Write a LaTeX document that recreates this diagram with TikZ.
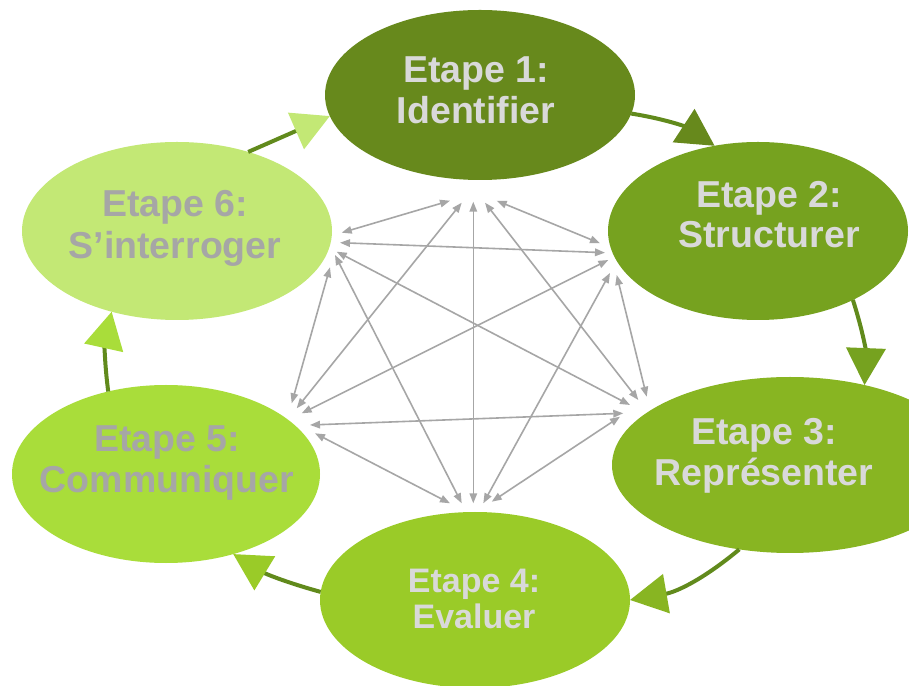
\documentclass[tikz,border=0pt]{standalone}
\usepackage{fontspec}
\setmainfont{Liberation Sans}
\usetikzlibrary{arrows.meta,shapes.geometric}
\definecolor{cA}{HTML}{67891C}
\definecolor{cB}{HTML}{76A21F}
\definecolor{cC}{HTML}{88B522}
\definecolor{cD}{HTML}{9ACB28}
\definecolor{cE}{HTML}{A9DD3A}
\definecolor{cF}{HTML}{C3E875}
\definecolor{cycline}{HTML}{618A1C}
\definecolor{linkgray}{HTML}{A6A6A6}
\definecolor{txtlight}{HTML}{D9D9D9}
\definecolor{txtdark}{HTML}{A6A6A6}
\begin{document}
\begin{tikzpicture}[x=1pt,y=1pt,
  stage/.style={ellipse, inner sep=0pt, outer sep=0pt, draw=none},
  lbl/.style={anchor=base, inner sep=0pt, font=\fontsize{37.5}{41}\selectfont\bfseries},
  lblsmall/.style={anchor=base, inner sep=0pt, font=\fontsize{34}{37}\selectfont\bfseries},
  link/.style={draw=linkgray, line width=1.6pt, {Triangle[length=10pt,width=7.5pt]}-{Triangle[length=10pt,width=7.5pt]}},
  cyc/.style={draw=cycline, line width=4pt, -{Triangle[length=37pt,width=39pt,color=#1]}}]
\fill[white] (0,0) rectangle (909,685);
\useasboundingbox (0,0) rectangle (909,685);
\clip (0,0) rectangle (909,685);
% stages
\node[stage, fill=cA, minimum width=310pt, minimum height=170pt] (E1) at (480,590) {};
\node[stage, fill=cB, minimum width=300pt, minimum height=178pt] (E2) at (758,454) {};
\node[stage, fill=cC, minimum width=356pt, minimum height=176pt] (E3) at (790,220) {};
\node[stage, fill=cD, minimum width=310pt, minimum height=176pt] (E4) at (475,85) {};
\node[stage, fill=cE, minimum width=308pt, minimum height=178pt] (E5) at (166,211) {};
\node[stage, fill=cF, minimum width=310pt, minimum height=178pt] (E6) at (177,454) {};
% network end points
\coordinate (ab) at (496.7,484.3); \coordinate (ba) at (600,441.7);
\coordinate (ac) at (485,482.3);   \coordinate (ca) at (638.3,285);
\coordinate (ad) at (473.3,483.3); \coordinate (da) at (473.3,181.7);
\coordinate (ae) at (461.7,482.3); \coordinate (ea) at (296.7,276.7);
\coordinate (af) at (450,484.3);   \coordinate (fa) at (341.7,452.3);
\coordinate (bc) at (616.7,410);   \coordinate (cb) at (646.7,288.3);
\coordinate (bd) at (610,412);     \coordinate (db) at (483.3,181.7);
\coordinate (be) at (608.3,425);   \coordinate (eb) at (301.7,271.7);
\coordinate (bf) at (605,432.3);   \coordinate (fb) at (340,442.3);
\coordinate (cd) at (620,268.3);   \coordinate (dc) at (491.7,183.3);
\coordinate (ce) at (623.3,271.7); \coordinate (ec) at (310,260);
\coordinate (cf) at (630,280);     \coordinate (fc) at (336.7,433.3);
\coordinate (de) at (450,181.7);   \coordinate (ed) at (315,251.7);
\coordinate (df) at (461.7,181.7); \coordinate (fd) at (335,430);
\coordinate (ef) at (291.7,281.7); \coordinate (fe) at (330,417.7);
\foreach \p/\q in {a/b,a/c,a/d,a/e,a/f,b/c,b/d,b/e,b/f,c/d,c/e,c/f,d/e,d/f,e/f}
  \draw[link] (\p\q) -- (\q\p);
% cycle
\draw[cyc=cF] (E6.48) -- (E1.188);
\draw[cyc=cA] (E1.353) to[bend left=12] (E2.117);
\draw[cyc=cB] (E2.324) to[bend left=10] (E3.47);
\draw[cyc=cC] (E3.239) to[bend left=15] (E4.0);
\draw[cyc=cD] (E4.177) to[bend left=8] (E5.310);
\draw[cyc=cE] (E5.125) to[bend left=10] (E6.231);
% labels
\node[lbl, text=txtlight] (t1a) at (476,602) {Etape 1:};
\node[lbl, text=txtlight] (t1b) at (476,561) {Identifier};
\node[lbl, text=txtlight] (t2a) at (769,477) {Etape 2:};
\node[lbl, text=txtlight] (t2b) at (769,437) {Structurer};
\node[lbl, text=txtlight] (t3a) at (764,240) {Etape 3:};
\node[lbl, text=txtlight] (t3b) at (764,199) {Représenter};
\node[lblsmall, text=txtlight] (t4a) at (474,93) {Etape 4:};
\node[lblsmall, text=txtlight] (t4b) at (474,57) {Evaluer};
\node[lbl, text=txtdark] (t5a) at (167,233) {Etape 5:};
\node[lbl, text=txtdark] (t5b) at (167,192) {Communiquer};
\node[lbl, text=txtdark] (t6a) at (175,468) {Etape 6:};
\node[lbl, text=txtdark] (t6b) at (175,426) {S’interroger};
\end{tikzpicture}
\end{document}
